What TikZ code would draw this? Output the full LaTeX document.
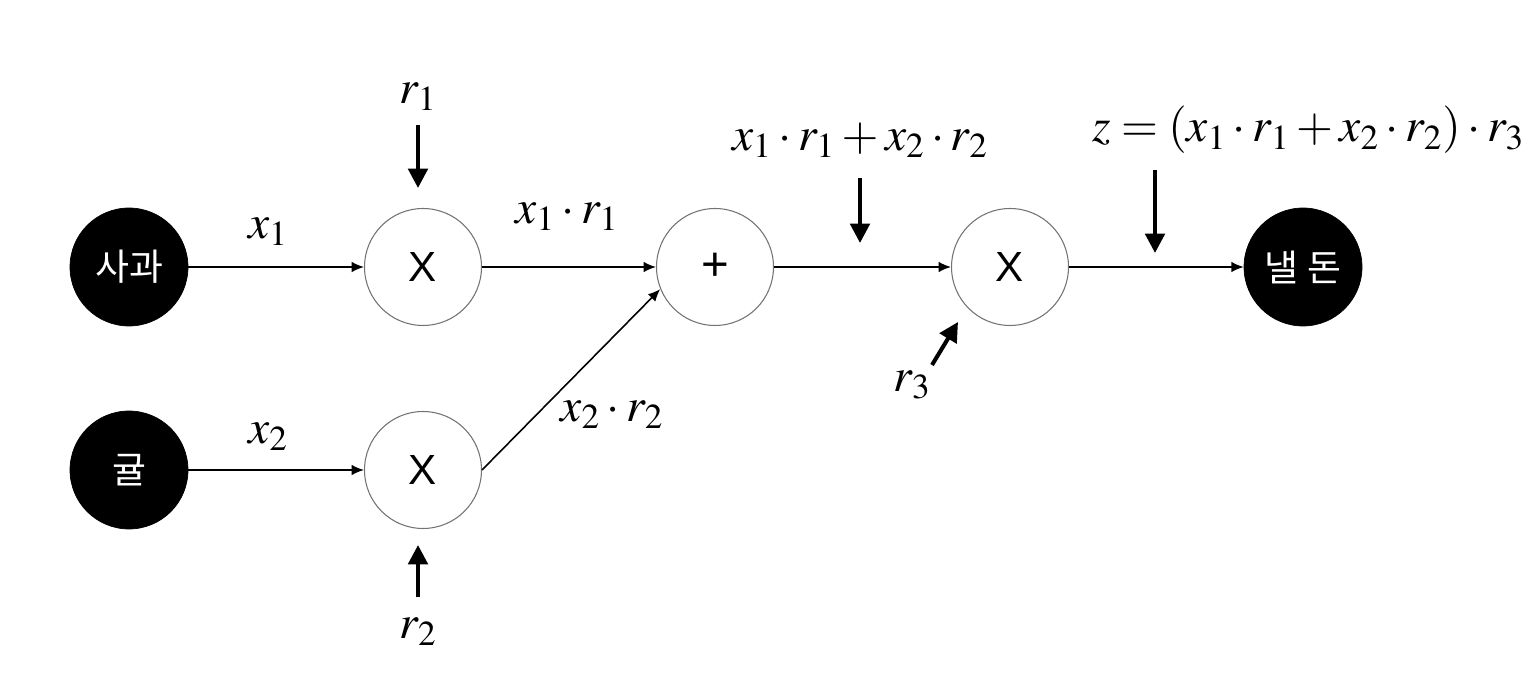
\documentclass[tikz,border=0pt]{standalone}
\usepackage{fontspec}
\usepackage{mathptmx}
\setmainfont{Liberation Sans}
\newfontfamily\krfont{Noto Sans CJK KR}
\usetikzlibrary{arrows.meta, positioning}

\tikzset{
  blacknode/.style={circle, fill=black, draw=black, minimum size=2.36cm, inner sep=0pt,
    text=white, font=\krfont\fontsize{21}{24}\selectfont},
  opnode/.style={circle, draw=black!55, line width=0.6pt, fill=white, minimum size=2.34cm,
    inner sep=0pt, font=\fontsize{24}{28}\selectfont},
  vallabel/.style={inner sep=0pt, font=\fontsize{27}{31}\selectfont},
  flow/.style={-{Latex[length=7pt,width=6pt]}, line width=0.9pt},
  feed/.style={-{Triangle[length=11pt,width=11pt]}, line width=2.3pt}
}

\begin{document}
\begin{tikzpicture}[x=0.02cm,y=-0.02cm]
\useasboundingbox (0,0) rectangle (1540,688);

% inputs and operations
\node[blacknode] (apple)  at (129,267) {사과};
\node[blacknode] (orange) at (129,470) {귤};
\node[opnode] (mulA) at (423,267) {X};
\node[opnode] (mulB) at (423,470) {X};
\node[opnode, font=\fontsize{27}{30}\selectfont] (add) at (715,267) {+};
\node[opnode] (mulC) at (1010,267) {X};
\node[blacknode] (pay) at (1303,267) {낼 돈};

% value labels
\node[vallabel] (lx1)   at (268,232) {$x_1$};
\node[vallabel] (lx2)   at (268,437) {$x_2$};
\node[vallabel] (lxr1)  at (567,217) {$x_1\cdot r_1$};
\node[vallabel] (lxr2)  at (612,415) {$x_2\cdot r_2$};
\node[vallabel] (lsum)  at (860,140) {$x_1\cdot r_1+x_2\cdot r_2$};
\node[vallabel] (ltot)  at (1308,130) {$z=(x_1\cdot r_1+x_2\cdot r_2)\cdot r_3$};
\node[vallabel] (lr1)   at (418,97)  {$r_1$};
\node[vallabel] (lr2)   at (418,632) {$r_2$};
\node[vallabel] (lr3)   at (912,385) {$r_3$};

% forward flow
\draw[flow] (apple.east) -- (mulA.west);
\draw[flow] (orange.east) -- (mulB.west);
\draw[flow] (mulA.east) -- (add.west);
\draw[flow] (mulB.east) -- (add.202);
\draw[flow] (add.east) -- (mulC.west);
\draw[flow] (mulC.east) -- (pay.west);

% feed arrows
\coordinate (r1a) at (418,125);  \coordinate (r1b) at (418,188);
\coordinate (r2a) at (418,597);  \coordinate (r2b) at (418,545);
\coordinate (r3a) at (932,365);  \coordinate (r3b) at (958,322);
\coordinate (sa)  at (860,178);  \coordinate (sb)  at (860,243);
\coordinate (ta)  at (1155,170); \coordinate (tb)  at (1155,253);
\draw[feed] (r1a) -- (r1b);
\draw[feed] (r2a) -- (r2b);
\draw[feed] (r3a) -- (r3b);
\draw[feed] (sa) -- (sb);
\draw[feed] (ta) -- (tb);
\end{tikzpicture}
\end{document}
